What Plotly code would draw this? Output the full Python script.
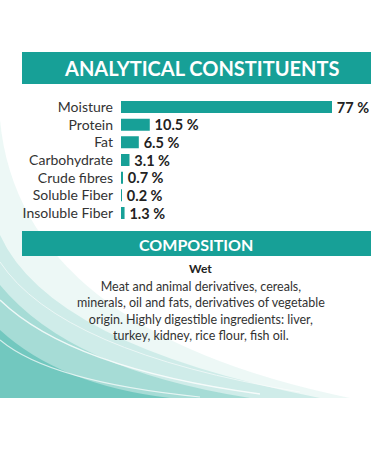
import plotly.graph_objects as go

W, H = 375, 450

categories = ["Moisture", "Protein", "Fat", "Carbohydrate", "Crude fibres", "Soluble Fiber", "Insoluble Fiber"]
values = [77, 10.5, 6.5, 3.1, 0.7, 0.2, 1.3]
value_labels = ["77 %", "10.5 %", "6.5 %", "3.1 %", "0.7 %", "0.2 %", "1.3 %"]

title_text = "ANALYTICAL CONSTITUENTS"
section_text = "COMPOSITION"
sub_title = "Wet"
composition_lines = [
    "Meat and animal derivatives, cereals,",
    "minerals, oil and fats, derivatives of vegetable",
    "origin. Highly digestible ingredients: liver,",
    "turkey, kidney, rice flour, fish oil.",
]

TEAL = "#17a097"
FONT = "Lato"


def px(x):
    return x / W


def py(y):
    return 1 - y / H


def path(cmds):
    out = []
    for c in cmds:
        if isinstance(c, str):
            out.append(c)
        else:
            out.append(f"{px(c[0]):.4f},{py(c[1]):.4f}")
    return " ".join(out)


fig = go.Figure()
fig.add_trace(go.Bar(
    orientation="h",
    y=categories,
    x=values,
    marker=dict(color=TEAL, line=dict(width=0)),
    text=value_labels,
    texttemplate="\u2009%{text}",
    textposition="outside",
    constraintext="none",
    cliponaxis=False,
    textfont=dict(family=FONT, size=14.5, color="#222222", weight="bold"),
    hoverinfo="skip",
))

shapes = []
# decorative swoosh (bottom-left)
swoosh = [
    (["M", (0, 120), "Q", (20, 330), (350, 398), "L", (0, 398), "Z"], "#e8f6f4", 0.8),
    (["M", (0, 235), "Q", (50, 345), (320, 398), "L", (0, 398), "Z"], "#c4e8e4", 0.75),
    (["M", (0, 285), "Q", (70, 370), (250, 398), "L", (0, 398), "Z"], "#94d5cd", 0.7),
    (["M", (0, 330), "Q", (60, 385), (170, 398), "L", (0, 398), "Z"], "#5cbfb5", 0.7),
]
for cmds, col, op in swoosh:
    shapes.append(dict(type="path", xref="paper", yref="paper", path=path(cmds),
                       fillcolor=col, opacity=op, line=dict(width=0), layer="below"))
for cmds, wdt, op in [
    (["M", (0, 300), "Q", (70, 368), (260, 394)], 1.5, 0.8),
    (["M", (0, 340), "Q", (50, 382), (200, 397)], 1.2, 0.7),
    (["M", (0, 262), "Q", (60, 352), (300, 392)], 1.0, 0.6),
]:
    shapes.append(dict(type="path", xref="paper", yref="paper", path=path(cmds),
                       line=dict(color="white", width=wdt), opacity=op, layer="below"))

# banners
shapes.append(dict(type="rect", xref="paper", yref="paper", x0=px(22), x1=px(371), y0=py(84), y1=py(52),
                   fillcolor=TEAL, line=dict(width=0)))
shapes.append(dict(type="rect", xref="paper", yref="paper", x0=px(22), x1=px(371), y0=py(256), y1=py(231),
                   fillcolor=TEAL, line=dict(width=0)))

annotations = [
    dict(text=title_text, xref="paper", yref="paper", x=px(202), y=py(68), showarrow=False,
         font=dict(family=FONT, size=20, color="white", weight="bold"), xanchor="center", yanchor="middle"),
    dict(text=section_text, xref="paper", yref="paper", x=px(196), y=py(244), showarrow=False,
         font=dict(family=FONT, size=16, color="white", weight="bold"), xanchor="center", yanchor="middle"),
    dict(text=sub_title, xref="paper", yref="paper", x=px(200), y=py(268), showarrow=False,
         font=dict(family=FONT, size=12, color="#222222", weight="bold"), xanchor="center", yanchor="middle"),
    dict(text="<br>".join(composition_lines), xref="paper", yref="paper", x=px(201), y=py(277), showarrow=False,
         font=dict(family=FONT, size=12.5, color="#333333"), xanchor="center", yanchor="top", align="center"),
]

row = 17.67
top = 107 - row / 2
bottom = 213 + row / 2
fig.update_layout(
    width=W, height=H,
    margin=dict(l=0, r=0, t=0, b=0),
    paper_bgcolor="white",
    plot_bgcolor="rgba(0,0,0,0)",
    showlegend=False,
    bargap=0.32,
    shapes=shapes,
    annotations=annotations,
    xaxis=dict(domain=[px(121), px(332)], range=[0, 77], visible=False, fixedrange=True),
    yaxis=dict(domain=[py(bottom), py(top)], autorange="reversed", categoryorder="array",
               categoryarray=categories, showline=False, showgrid=False, zeroline=False,
               ticks="", ticklabelstandoff=7,
               tickfont=dict(family=FONT, size=14, color="#333333"), fixedrange=True),
)

fig.write_html("out.html", config={"displayModeBar": False},
               post_script="document.body.style.margin='0';document.body.style.overflow='hidden';")
